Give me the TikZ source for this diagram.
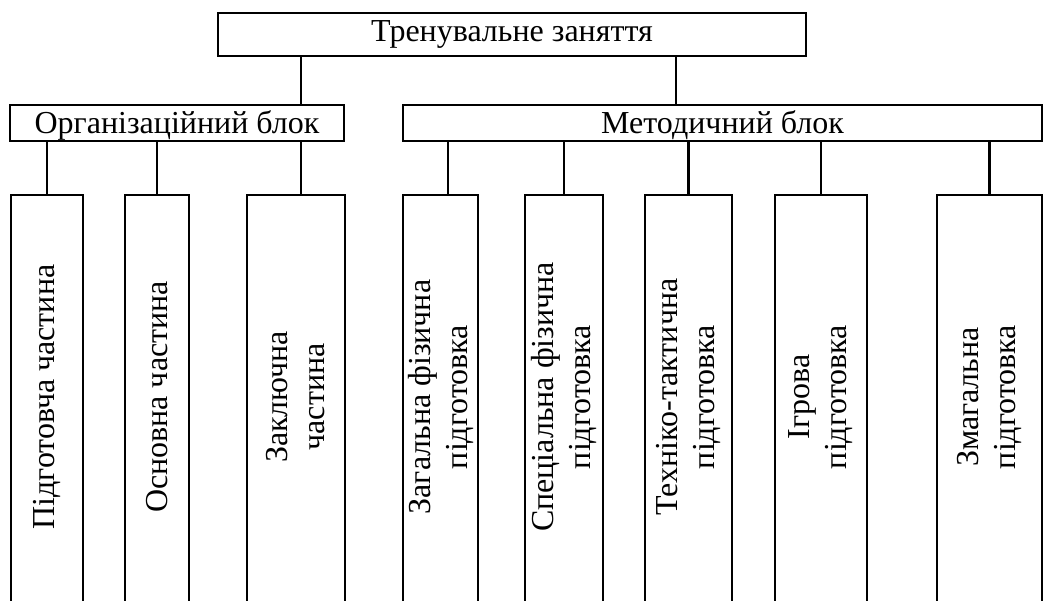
\documentclass[tikz,border=0pt]{standalone}
\usepackage{fontspec}
\setmainfont{Liberation Serif}
\begin{document}
\begin{tikzpicture}[x=1pt,y=-1pt,
  box/.style={draw, line width=2.2pt, rectangle, inner sep=0pt, font=\fontsize{32}{37}\selectfont},
  topbox/.style={box, text height=22pt, text depth=7.6pt},
  blockbox/.style={box, text height=24pt, text depth=2.5pt},
  colbox/.style={box, minimum height=425pt},
  wire/.style={line width=2.2pt},
  vlbl/.style={font=\fontsize{32}{37}\selectfont, inner sep=0pt, rotate=90, align=center}]
\clip (0,0) rectangle (1043,601);
\fill[white] (0,0) rectangle (1043,601);
% top
\node[topbox, minimum width=588pt, minimum height=42.4pt] (T) at (512,34.5) {Тренувальне заняття};
% blocks
\node[blockbox, minimum width=334pt, minimum height=36pt] (O) at (177,122.7) {Організаційний блок};
\node[blockbox, minimum width=639pt, minimum height=36pt] (M) at (722.5,122.7) {Методичний блок};
% column boxes
\node[colbox, minimum width=72pt]  (b1) at (47,407.5) {};
\node[colbox, minimum width=64pt]  (b2) at (157,407.5) {};
\node[colbox, minimum width=98pt]  (b3) at (296,407.5) {};
\node[colbox, minimum width=75pt]  (b4) at (440.5,407.5) {};
\node[colbox, minimum width=78pt]  (b5) at (564,407.5) {};
\node[colbox, minimum width=87pt]  (b6) at (688.5,407.5) {};
\node[colbox, minimum width=92pt]  (b7) at (821,407.5) {};
\node[colbox, minimum width=105pt] (b8) at (989.5,407.5) {};
% column labels
\node[vlbl] (t1) at (47,397) {Підготовча частина};
\node[vlbl] (t2) at (157,397) {Основна частина};
\node[vlbl] (t3) at (296,397) {Заключна\\частина};
\node[vlbl] (t4) at (440.5,397) {Загальна фізична\\підготовка};
\node[vlbl] (t5) at (564,397) {Спеціальна фізична\\підготовка};
\node[vlbl] (t6) at (688.5,397) {Техніко-тактична\\підготовка};
\node[vlbl] (t7) at (821,397) {Ігрова\\підготовка};
\node[vlbl] (t8) at (989.5,397) {Змагальна\\підготовка};
% connector x positions
\coordinate (k1) at (301,0);
\coordinate (k2) at (676,0);
\coordinate (k3) at (448,0);
% connectors
\draw[wire] (T.south -| k1) -- (O.north -| k1);
\draw[wire] (T.south -| k2) -- (M.north -| k2);
\draw[wire] (b1.north) -- (b1.north |- O.south);
\draw[wire] (b2.north) -- (b2.north |- O.south);
\draw[wire] (b3.north -| k1) -- (O.south -| k1);
\draw[wire] (b4.north -| k3) -- (M.south -| k3);
\draw[wire] (b5.north) -- (b5.north |- M.south);
\draw[wire] (b6.north) -- (b6.north |- M.south);
\draw[wire] (b7.north) -- (b7.north |- M.south);
\draw[wire] (b8.north) -- (b8.north |- M.south);
\end{tikzpicture}
\end{document}
